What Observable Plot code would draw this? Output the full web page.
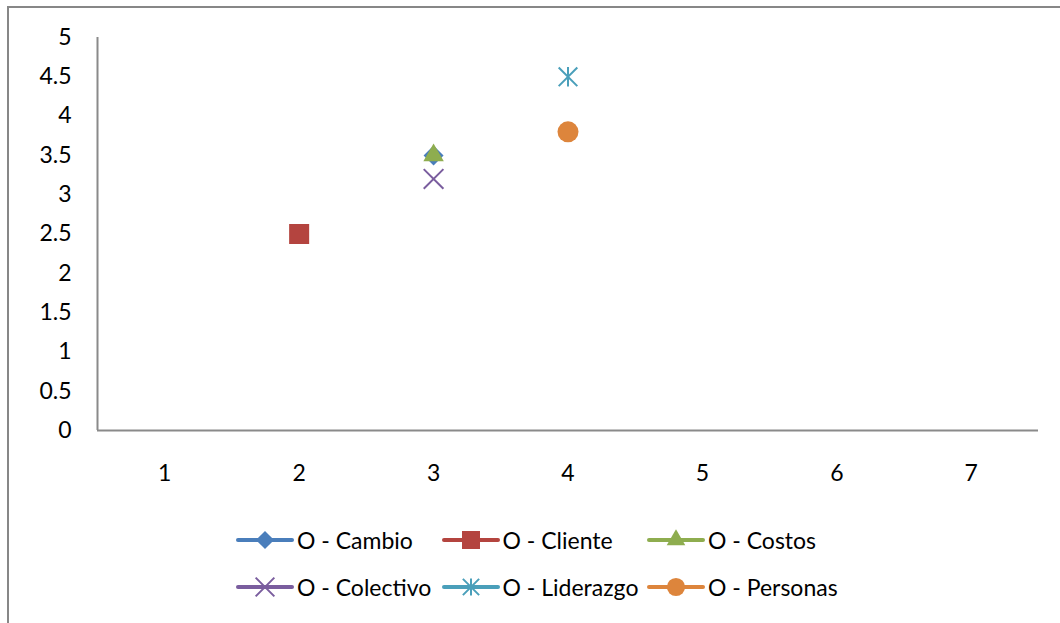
<!DOCTYPE html>
<html>
<head>
<meta charset="utf-8">
<script src="https://cdn.jsdelivr.net/npm/d3@7"></script>
<script src="https://cdn.jsdelivr.net/npm/@observablehq/plot@0.6"></script>
<style>
  html, body { margin: 0; padding: 0; background: #fff; }
  body { width: 1060px; height: 623px; overflow: hidden; position: relative; font-family: Lato, sans-serif; }
  #frame { position: absolute; left: 7px; top: 6px; width: 1200px; height: 800px; border-left: 2px solid #878787; border-top: 2px solid #878787; pointer-events: none; }
  #chart { position: absolute; left: 0; top: 0; }
  #legend { position: absolute; left: 236px; top: 516px; display: grid; grid-template-columns: 205.5px 205.5px 205.5px; grid-auto-rows: 47px; }
  .item { display: flex; align-items: center; font-size: 23px; color: #000; white-space: nowrap; }
  .item svg { margin-right: 3px; flex: none; }
</style>
</head>
<body>
<div id="chart"></div>
<div id="legend"></div>
<div id="frame"></div>
<script>
// ---- data ----
const seriesNames = ["O - Cambio", "O - Cliente", "O - Costos", "O - Colectivo", "O - Liderazgo", "O - Personas"];
const xValues = [3, 2, 3, 3, 4, 4];
const yValues = [3.5, 2.5, 3.5, 3.2, 4.5, 3.8];
const xTicks = [1, 2, 3, 4, 5, 6, 7];
const yTicks = [0, 0.5, 1, 1.5, 2, 2.5, 3, 3.5, 4, 4.5, 5];

// ---- styles ----
const colors = ["#4A7EBB", "#B4443F", "#8EAD4F", "#7A5D9E", "#4A9FBA", "#DD853C"];
// Excel-style asterisk: vertical bar plus an X
const excelAsterisk = {
  draw(context, size) {
    const r = Math.sqrt(size / Math.PI);
    const d = r * 0.95;
    context.moveTo(0, -r); context.lineTo(0, r);
    context.moveTo(-d, -d); context.lineTo(d, d);
    context.moveTo(-d, d); context.lineTo(d, -d);
  }
};
const symbolTypes = [d3.symbolDiamond2, d3.symbolSquare, d3.symbolTriangle, d3.symbolTimes, excelAsterisk, d3.symbolCircle];
const radii = [9, 11.3, 7.6, 9, 9.8, 10.5];
const isStrokeSym = [false, false, false, true, true, false];
const axisColor = "#8a8a8a";
const xDomain = [0.5, 7.5];
const yDomain = [0, 5];

const dotMarks = seriesNames.map((name, i) => {
  const data = [{x: xValues[i], y: yValues[i], name}];
  const isStroke = isStrokeSym[i];
  return Plot.dot(data, {
    x: "x", y: "y", symbol: () => symbolTypes[i], r: radii[i],
    fill: isStroke ? "none" : colors[i],
    stroke: isStroke ? colors[i] : "none",
    strokeWidth: isStroke ? 2 : 0
  });
});

const plot = Plot.plot({
  width: 1060, height: 470,
  marginLeft: 97, marginRight: 22, marginTop: 37, marginBottom: 40,
  style: {fontFamily: "Lato, sans-serif", fontSize: "23px", color: "#000", background: "transparent", overflow: "visible"},
  x: {type: "linear", domain: xDomain, ticks: xTicks, tickSize: 0, tickPadding: 34, label: null, tickFormat: d => String(d)},
  y: {type: "linear", domain: yDomain, ticks: yTicks, tickSize: 0, tickPadding: 26, label: null, tickFormat: d => String(d)},
  symbol: {type: "identity"},
  marks: [
    Plot.ruleX([xDomain[0]], {stroke: axisColor, strokeWidth: 2}),
    Plot.ruleY([yDomain[0]], {stroke: axisColor, strokeWidth: 2}),
    ...dotMarks
  ]
});
document.getElementById("chart").appendChild(plot);

// ---- legend ----
const legend = d3.select("#legend");
const legendSizes = [210, 324, 150, 230, 230, 260];
seriesNames.forEach((name, i) => {
  const item = legend.append("div").attr("class", "item");
  const svg = item.append("svg").attr("width", 58).attr("height", 26);
  svg.append("line").attr("x1", 2).attr("x2", 56).attr("y1", 13).attr("y2", 13)
    .attr("stroke", colors[i]).attr("stroke-width", 4).attr("stroke-linecap", "round");
  const isStroke = isStrokeSym[i];
  svg.append("path").attr("transform", "translate(29,13)")
    .attr("d", d3.symbol(symbolTypes[i], legendSizes[i])())
    .attr("fill", isStroke ? "none" : colors[i])
    .attr("stroke", isStroke ? colors[i] : "none")
    .attr("stroke-width", isStroke ? 2 : 0);
  item.append("span").text(name);
});
</script>
</body>
</html>
